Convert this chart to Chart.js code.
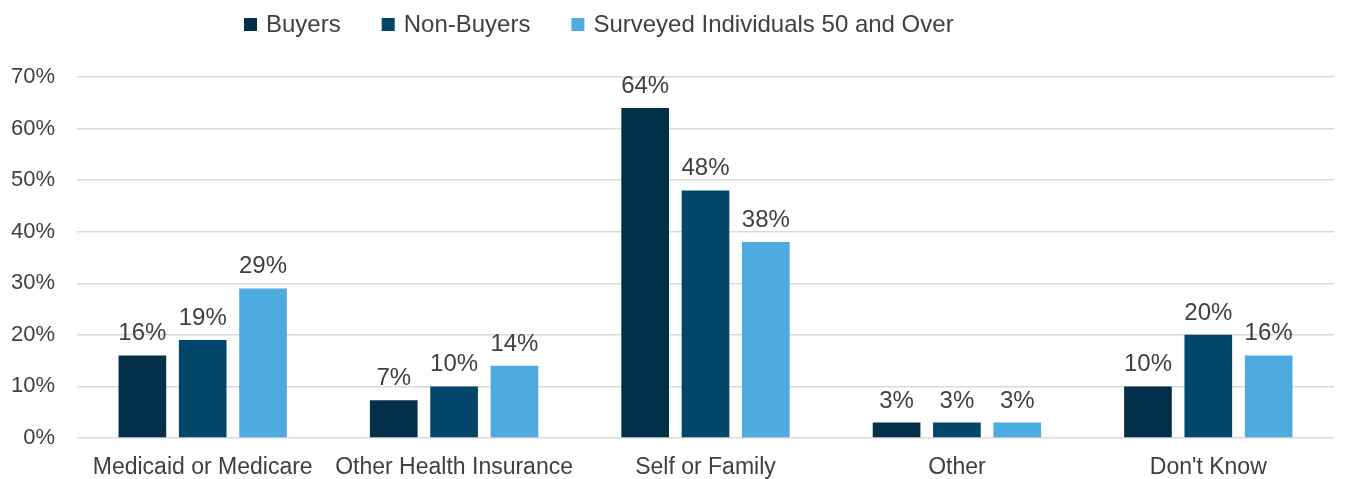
<!DOCTYPE html>
<html>
<head>
<meta charset="utf-8">
<script src="https://cdn.jsdelivr.net/npm/chart.js@4"></script>
<style>
  html, body { margin: 0; padding: 0; background: #fff; }
  #wrap { width: 1346px; height: 479px; }
</style>
</head>
<body>
<div id="wrap"><canvas id="myChart"></canvas></div>
<script>
// categories and series (percent)
const categories = ["Medicaid or Medicare", "Other Health Insurance", "Self or Family", "Other", "Don't Know"];
const buyers = [16, 7.3, 64, 3, 10];
const nonBuyers = [19, 10, 48, 3, 20];
const surveyed = [29, 14, 38, 3, 16];
const seriesNames = ["Buyers", "Non-Buyers", "Surveyed Individuals 50 and Over"];
const seriesColors = ["#02304a", "#03466c", "#4eabdf"];

const textColor = "#404040";
const fontFamily = "'Liberation Sans', Arial, sans-serif";

// data labels above each bar
const barLabels = {
    id: "barLabels",
    afterDatasetsDraw(chart) {
        const ctx = chart.ctx;
        ctx.save();
        ctx.font = "24px " + fontFamily;
        ctx.fillStyle = textColor;
        ctx.textAlign = "center";
        ctx.textBaseline = "alphabetic";
        chart.data.datasets.forEach((ds, i) => {
            const meta = chart.getDatasetMeta(i);
            meta.data.forEach((bar, j) => {
                ctx.fillText(Math.round(ds.data[j]) + "%", bar.x, bar.y - 15);
            });
        });
        ctx.restore();
    },
};

// legend drawn in the top strip, left of centre like the original
const topLegend = {
    id: "topLegend",
    afterDraw(chart) {
        const ctx = chart.ctx;
        ctx.save();
        ctx.font = "24px " + fontFamily;
        ctx.textBaseline = "middle";
        let x = 244;
        const y = 24;
        chart.data.datasets.forEach((ds) => {
            ctx.fillStyle = ds.backgroundColor;
            ctx.fillRect(x, y - 6, 13, 13);
            x += 22;
            ctx.fillStyle = textColor;
            ctx.fillText(ds.label, x, y + 1);
            x += ctx.measureText(ds.label).width + 41;
        });
        ctx.restore();
    },
};

document.addEventListener("DOMContentLoaded", function () {
    const ctx = document.getElementById("myChart");
    new Chart(ctx, {
        type: "bar",
        data: {
            labels: categories,
            datasets: [buyers, nonBuyers, surveyed].map((d, i) => ({
                label: seriesNames[i],
                data: d,
                backgroundColor: seriesColors[i],
                categoryPercentage: 0.72,
                barPercentage: 0.79,
            })),
        },
        options: {
            responsive: true,
            maintainAspectRatio: false,
            animation: false,
            layout: { padding: { left: 0, right: 12, top: 77, bottom: 0 } },
            plugins: {
                legend: { display: false },
                tooltip: { enabled: false },
            },
            scales: {
                x: {
                    grid: { display: false },
                    border: { display: false },
                    afterFit: (scale) => { scale.height = 41; },
                    ticks: {
                        color: textColor,
                        font: { family: fontFamily, size: 23 },
                        padding: 8,
                        maxRotation: 0,
                    },
                },
                y: {
                    min: 0,
                    max: 70,
                    grid: { color: "#d9d9d9", lineWidth: 1.5, drawTicks: false },
                    border: { display: false },
                    afterFit: (scale) => { scale.width = 77; },
                    ticks: {
                        stepSize: 10,
                        color: textColor,
                        padding: 22,
                        font: { family: fontFamily, size: 22 },
                        callback: (v) => v + "%",
                    },
                },
            },
        },
        plugins: [barLabels, topLegend],
    });
});
</script>
</body>
</html>
